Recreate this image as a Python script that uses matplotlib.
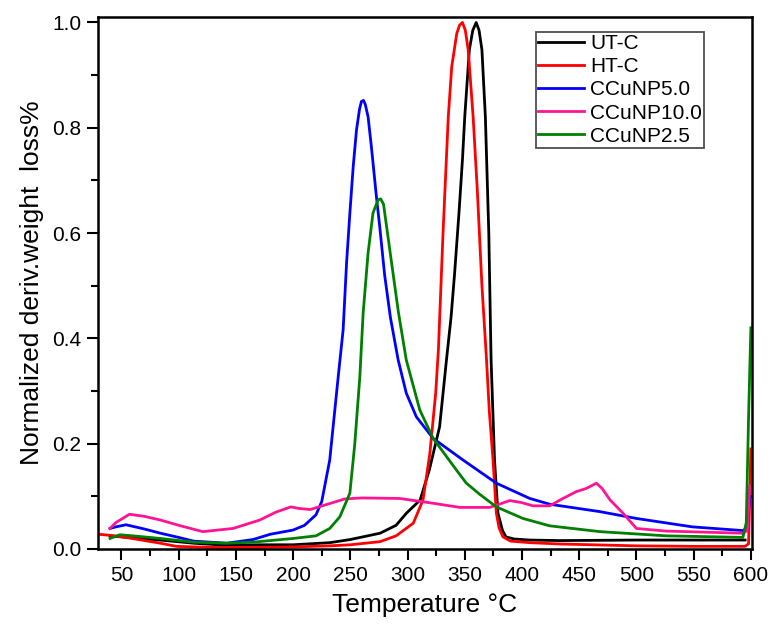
import matplotlib
matplotlib.use("Agg")
import matplotlib.pyplot as plt
from matplotlib.ticker import MultipleLocator

plt.rcParams['font.family'] = ['Liberation Sans', 'DejaVu Sans']

# ---- data ----
ut_x = [40, 55, 84, 113, 142, 171, 200, 232, 250, 276, 290, 299, 311, 319, 328, 334, 338, 341, 345, 348, 350, 354, 357,
        360, 362.5, 365, 368, 371, 373, 376, 379, 383, 386, 393, 407, 433, 500, 550, 595]
ut_y = [0.025, 0.022, 0.017, 0.011, 0.007, 0.008, 0.008, 0.012, 0.018, 0.030, 0.045, 0.068, 0.093, 0.15, 0.232, 0.359,
        0.44, 0.52, 0.64, 0.74, 0.821, 0.948, 0.985, 1.0, 0.985, 0.948, 0.821, 0.6, 0.359, 0.169, 0.068, 0.035, 0.023,
        0.019, 0.017, 0.016, 0.017, 0.017, 0.017]

ht_x = [30, 40, 54, 84, 98, 130, 170, 200, 232, 250, 276, 290, 305, 313.5, 319.4, 324.6, 327, 331, 335.6, 338.6, 343,
        345.5, 348, 350.5, 353, 357.3, 361, 365, 369, 371.5, 374.7, 377.6, 380, 383.4, 390, 407, 433, 500, 550, 595,
        598, 600]
ht_y = [0.028, 0.026, 0.022, 0.011, 0.005, 0.003, 0.003, 0.004, 0.006, 0.008, 0.014, 0.025, 0.049, 0.093, 0.18, 0.296,
        0.38, 0.6, 0.821, 0.916, 0.979, 0.995, 1.0, 0.985, 0.948, 0.821, 0.68, 0.5, 0.36, 0.26, 0.169, 0.068, 0.04,
        0.023, 0.015, 0.012, 0.0095, 0.006, 0.005, 0.005, 0.01, 0.19]

c50_x = [40, 45, 54, 70, 84, 100, 113, 142, 165, 180, 200, 210, 220, 225, 232, 239.4, 243.7, 246.7, 249.6, 252.5,
         255.4, 258, 259.7, 261.5, 263, 265.5, 268.4, 272.8, 275.7, 280, 285, 291.8, 298.9, 307.7, 322.4, 348.5, 377.6,
         406.8, 424.3, 468, 500, 549, 593, 597, 599, 600]
c50_y = [0.039, 0.042, 0.046, 0.038, 0.030, 0.022, 0.015, 0.011, 0.018, 0.028, 0.036, 0.045, 0.065, 0.09, 0.169, 0.327,
         0.416, 0.543, 0.638, 0.726, 0.796, 0.835, 0.85, 0.852, 0.845, 0.821, 0.764, 0.669, 0.612, 0.52, 0.44, 0.359,
         0.296, 0.251, 0.21, 0.169, 0.125, 0.096, 0.085, 0.071, 0.058, 0.042, 0.035, 0.04, 0.1, 0.1]

c100_x = [40, 45, 57, 70, 84, 100, 121, 147.5, 170.8, 185, 198, 205, 215, 230, 245, 260, 293, 322, 345.6, 371.8, 380,
          389.3, 400, 409.6, 424.2, 435.8, 447.5, 456.2, 465, 470, 477, 488.3, 500, 526, 593, 597, 599, 600]
c100_y = [0.039, 0.05, 0.066, 0.062, 0.055, 0.045, 0.033, 0.039, 0.055, 0.07, 0.08, 0.077, 0.075, 0.085, 0.095, 0.097,
          0.096, 0.087, 0.079, 0.079, 0.085, 0.092, 0.088, 0.082, 0.082, 0.096, 0.109, 0.115, 0.125, 0.115, 0.093,
          0.068, 0.039, 0.034, 0.030, 0.035, 0.12, 0.12]

c25_x = [40, 48.5, 60, 84, 113, 142, 165, 200, 220, 232, 240.8, 249.6, 253.9, 258.3, 261.2, 265.5, 269.8, 274.2, 276.5,
         279, 285, 292, 298.9, 310.7, 322.4, 342.7, 351.4, 363, 377.6, 400.9, 424.2, 468, 526, 593, 596, 598, 600]
c25_y = [0.020, 0.027, 0.025, 0.020, 0.013, 0.011, 0.013, 0.02, 0.025, 0.039, 0.061, 0.106, 0.2, 0.327, 0.448, 0.562,
         0.638, 0.663, 0.665, 0.655, 0.56, 0.45, 0.359, 0.264, 0.21, 0.15, 0.125, 0.104, 0.080, 0.058, 0.044, 0.033,
         0.025, 0.022, 0.05, 0.25, 0.42]

series = [
    ("UT-C", ut_x, ut_y, "black"),
    ("HT-C", ht_x, ht_y, "#ff0000"),
    ("CCuNP5.0", c50_x, c50_y, "#0000ff"),
    ("CCuNP10.0", c100_x, c100_y, "#ff1493"),
    ("CCuNP2.5", c25_x, c25_y, "#008000"),
]

fig = plt.figure(figsize=(7.72, 6.33), dpi=100)
ax = fig.add_axes([98 / 772, 1 - 549 / 633, 654 / 772, 532 / 633])

for name, xs, ys, col in series:
    ax.plot(xs, ys, color=col, lw=2.0, label=name)

ax.set_xlim(29.5, 601)
ax.set_ylim(0, 1.0104)
ax.xaxis.set_major_locator(MultipleLocator(50))
ax.xaxis.set_minor_locator(MultipleLocator(25))
ax.yaxis.set_major_locator(MultipleLocator(0.2))
ax.yaxis.set_minor_locator(MultipleLocator(0.1))
ax.tick_params(which='major', direction='out', length=8, width=1.5, labelsize=15, pad=4)
ax.tick_params(which='minor', direction='out', length=5, width=1.5)
for s in ax.spines.values():
    s.set_linewidth(1.8)

ax.set_xlabel("Temperature °C", fontsize=19, labelpad=6)
ax.set_ylabel("Normalized deriv.weight  loss%", fontsize=19, labelpad=6)

leg = ax.legend(loc='upper right', bbox_to_anchor=((704 - 98) / 654, 1 - (32 - 17) / 532),
                borderaxespad=0, fontsize=15, frameon=True, fancybox=False, edgecolor='#222222',
                handlelength=2.2, handletextpad=0.3, labelspacing=0.2, borderpad=0.1)
leg.get_frame().set_linewidth(1.3)

fig.savefig("out.png", dpi=100)
